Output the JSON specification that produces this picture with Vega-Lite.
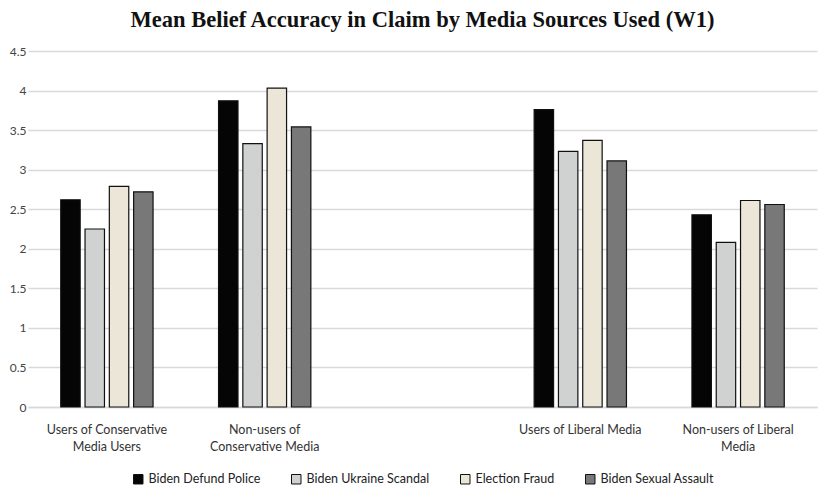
{
  "$schema": "https://vega.github.io/schema/vega-lite/v6.json",
  "width": 789,
  "height": 356,
  "autosize": {"type": "none"},
  "padding": {"left": 28, "top": 51, "right": 9, "bottom": 82},
  "background": "white",
  "title": {
    "text": "Mean Belief Accuracy in Claim by Media Sources Used (W1)",
    "font": "Liberation Serif",
    "fontSize": 22.5,
    "fontWeight": "bold",
    "color": "#111111",
    "anchor": "middle",
    "offset": 14
  },
  "data": {
    "values": [
      {"group": "Users of Conservative|Media Users", "claim": "Biden Defund Police", "value": 2.62},
      {"group": "Users of Conservative|Media Users", "claim": "Biden Ukraine Scandal", "value": 2.25},
      {"group": "Users of Conservative|Media Users", "claim": "Election Fraud", "value": 2.79},
      {"group": "Users of Conservative|Media Users", "claim": "Biden Sexual Assault", "value": 2.72},
      {"group": "Non-users of|Conservative Media", "claim": "Biden Defund Police", "value": 3.87},
      {"group": "Non-users of|Conservative Media", "claim": "Biden Ukraine Scandal", "value": 3.33},
      {"group": "Non-users of|Conservative Media", "claim": "Election Fraud", "value": 4.03},
      {"group": "Non-users of|Conservative Media", "claim": "Biden Sexual Assault", "value": 3.54},
      {"group": "Users of Liberal Media", "claim": "Biden Defund Police", "value": 3.76},
      {"group": "Users of Liberal Media", "claim": "Biden Ukraine Scandal", "value": 3.23},
      {"group": "Users of Liberal Media", "claim": "Election Fraud", "value": 3.37},
      {"group": "Users of Liberal Media", "claim": "Biden Sexual Assault", "value": 3.11},
      {"group": "Non-users of Liberal|Media", "claim": "Biden Defund Police", "value": 2.43},
      {"group": "Non-users of Liberal|Media", "claim": "Biden Ukraine Scandal", "value": 2.08},
      {"group": "Non-users of Liberal|Media", "claim": "Election Fraud", "value": 2.61},
      {"group": "Non-users of Liberal|Media", "claim": "Biden Sexual Assault", "value": 2.56}
    ]
  },
  "mark": {"type": "bar", "stroke": "#111111", "strokeWidth": 1.2},
  "encoding": {
    "x": {
      "field": "group",
      "type": "nominal",
      "sort": null,
      "scale": {
        "domain": ["Users of Conservative|Media Users", "Non-users of|Conservative Media", "gap", "Users of Liberal Media", "Non-users of Liberal|Media"],
        "paddingInner": 0.415,
        "paddingOuter": 0.2075
      },
      "axis": {
        "title": null,
        "labelAngle": 0,
        "ticks": false,
        "domainColor": "#d9d9d9",
        "domainWidth": 1.5,
        "labelExpr": "datum.label == 'gap' ? '' : split(datum.label, '|')",
        "labelFont": "Lato",
        "labelFontSize": 12.5,
        "labelColor": "#333333",
        "labelPadding": 16,
        "labelLineHeight": 17
      }
    },
    "xOffset": {
      "field": "claim",
      "type": "nominal",
      "sort": ["Biden Defund Police", "Biden Ukraine Scandal", "Election Fraud", "Biden Sexual Assault"],
      "scale": {"paddingInner": 0.2, "paddingOuter": 0}
    },
    "y": {
      "field": "value",
      "type": "quantitative",
      "scale": {"domain": [0, 4.5], "nice": false},
      "axis": {
        "title": null,
        "values": [0, 0.5, 1, 1.5, 2, 2.5, 3, 3.5, 4, 4.5],
        "format": ".1~f",
        "ticks": false,
        "domain": false,
        "gridColor": "#d9d9d9",
        "gridWidth": 1.5,
        "labelFont": "Lato",
        "labelFontSize": 12,
        "labelColor": "#444444",
        "labelPadding": 2
      }
    },
    "color": {
      "field": "claim",
      "type": "nominal",
      "sort": ["Biden Defund Police", "Biden Ukraine Scandal", "Election Fraud", "Biden Sexual Assault"],
      "scale": {
        "domain": ["Biden Defund Police", "Biden Ukraine Scandal", "Election Fraud", "Biden Sexual Assault"],
        "range": ["#050505", "#d0d1d1", "#ebe6d8", "#787878"]
      },
      "legend": {
        "title": null,
        "orient": "bottom",
        "direction": "horizontal",
        "symbolType": "square",
        "symbolSize": 90,
        "symbolStrokeColor": "#111111",
        "symbolStrokeWidth": 1,
        "labelFont": "Lato",
        "labelFontSize": 12.5,
        "labelColor": "#222222",
        "columnPadding": 28,
        "symbolOffset": 0,
        "offset": 20
      }
    }
  },
  "config": {
    "view": {"stroke": null},
    "legend": {"layout": {"bottom": {"anchor": "middle"}}}
  }
}
